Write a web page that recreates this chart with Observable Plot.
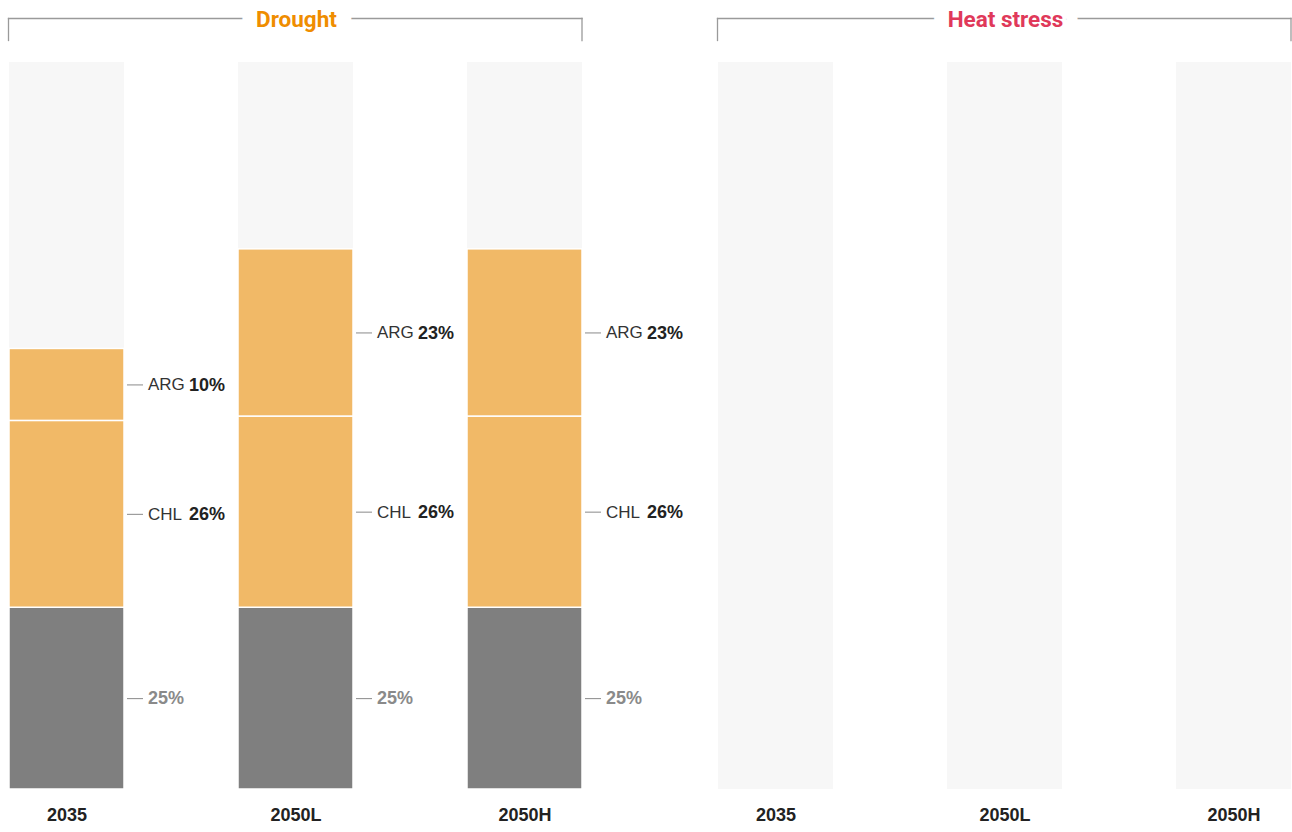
<!DOCTYPE html>
<html>
<head>
<meta charset="utf-8">
<script src="https://cdn.jsdelivr.net/npm/d3@7"></script>
<script src="https://cdn.jsdelivr.net/npm/@observablehq/plot@0.6"></script>
<style>
  html, body { margin: 0; padding: 0; background: #fff; }
  #chart svg { display: block; }
</style>
</head>
<body>
<div id="chart"></div>
<script>
// ---- Data ----
const groups = ["Drought", "Heat stress"];
const years = ["2035", "2050L", "2050H"];
const segments = ["base", "CHL", "ARG"];
const droughtBase = [25, 25, 25];
const droughtCHL = [25.7, 26.3, 26.3];
const droughtARG = [9.9, 23, 23];
const totalShare = 100;

// ---- Styles ----
const groupColors = {"Drought": "#ef8d00", "Heat stress": "#e0395a"};
const segColors = {"base": "#7f7f7f", "CHL": "#f1b967", "ARG": "#f1b967"};
const FONT = "'Liberation Sans', Arial, Helvetica, sans-serif";

// Build tables from the arrays
const segValues = {base: droughtBase, CHL: droughtCHL, ARG: droughtARG};
const rows = [];
years.forEach((year, i) => {
  segments.forEach(seg => rows.push({group: "Drought", year, seg, value: segValues[seg][i]}));
});
const background = [];
groups.forEach(group => years.forEach(year => background.push({group, year, value: totalShare})));

const fmt = v => Math.round(v) + "%";
const stack = (opts) => Plot.stackY({fx: "group", x: "year", y: "value", z: "seg", ...opts});

const chart = Plot.plot({
  width: 1292,
  height: 832,
  marginTop: 62,
  marginBottom: 43,
  marginLeft: 9,
  marginRight: 0,
  style: {fontFamily: FONT, background: "#fff"},
  fx: {domain: groups, paddingInner: 0.1907, paddingOuter: 0, axis: null, label: null},
  x: {domain: years, paddingInner: 0.497, paddingOuter: 0, align: 0, axis: null, label: null},
  y: {domain: [0, 100], axis: null},
  color: {type: "identity"},
  marks: [
    // bracket lines above each group
    Plot.frame({anchor: "top", insetTop: -44, insetLeft: -1, insetRight: 1.5, stroke: "#9a9a9a", strokeWidth: 1.3}),
    Plot.frame({anchor: "left", insetTop: -44, insetBottom: 749, insetLeft: -1, stroke: "#9a9a9a", strokeWidth: 1.3}),
    Plot.frame({anchor: "right", insetTop: -44, insetBottom: 749, insetRight: 1.5, stroke: "#9a9a9a", strokeWidth: 1.3}),
    Plot.text(groups, {
      fx: d => d, text: d => d, frameAnchor: "top", dy: -43, lineAnchor: "middle",
      fill: d => groupColors[d], stroke: "white", strokeWidth: 30,
      fontSize: 22.5, fontWeight: "bold", fontFamily: "Roboto, 'Liberation Sans', sans-serif"
    }),
    // background full bars
    Plot.barY(background, {fx: "group", x: "year", y: "value", fill: "#f7f7f7"}),
    // stacked segments
    Plot.barY(rows, stack({fill: d => segColors[d.seg], stroke: "white", strokeWidth: 1.5})),
    // leader ticks
    Plot.tickY(rows, stack({dx: 118, insetRight: 99, stroke: "#8a8a8a", strokeWidth: 1})),
    // segment names
    Plot.text(rows, stack({
      text: d => d.seg === "base" ? null : d.seg, dx: 81, textAnchor: "start",
      fill: "#333", fontSize: 17, fontFamily: FONT
    })),
    // named segment values
    Plot.text(rows, stack({
      text: d => d.seg === "base" ? null : fmt(d.value), dx: 122, textAnchor: "start",
      fill: "#222", fontSize: 18, fontWeight: "bold", fontFamily: FONT
    })),
    // base values
    Plot.text(rows, stack({
      text: d => d.seg === "base" ? fmt(d.value) : null, dx: 81, textAnchor: "start",
      fill: "#8a8a8a", fontSize: 18, fontWeight: "bold", fontFamily: FONT
    })),
    // x axis labels
    Plot.axisX({tickSize: 0, tickPadding: 19, fontSize: 18, fontWeight: "bold", fill: "#222", fontFamily: FONT, label: null})
  ]
});
document.getElementById("chart").appendChild(chart);
</script>
</body>
</html>
